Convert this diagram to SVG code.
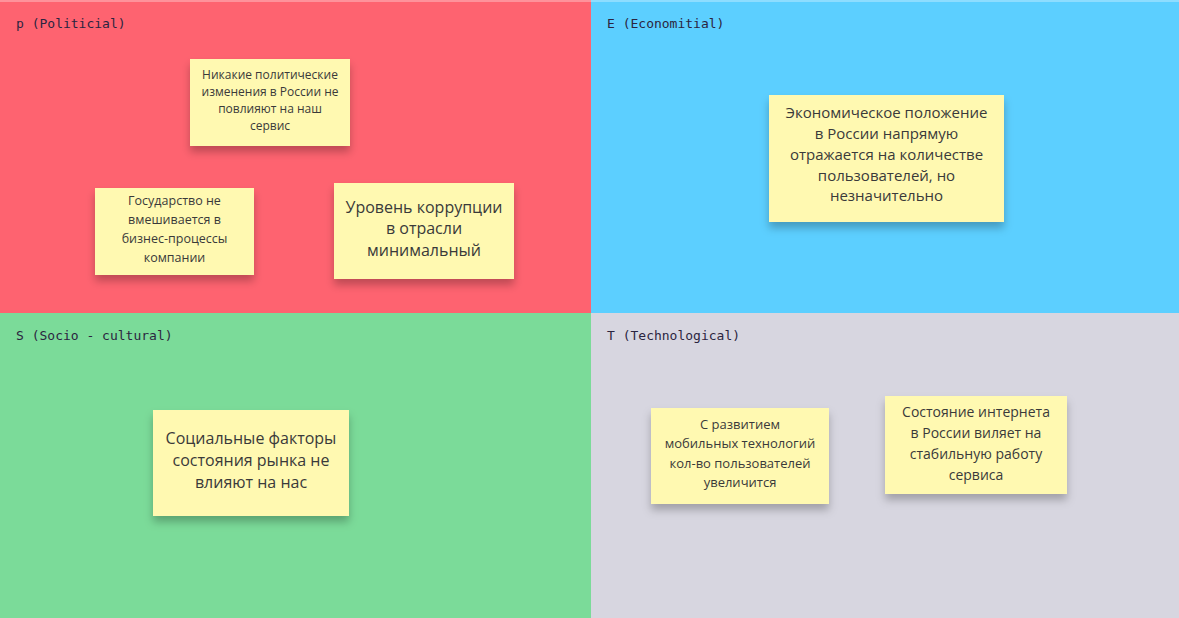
<svg xmlns="http://www.w3.org/2000/svg" width="1179" height="618" viewBox="0 0 1179 618">
<defs>
<style>
.lbl{font-family:"DejaVu Sans Mono","Liberation Mono",monospace;font-size:13px;fill:#2b2540}
.note{fill:#fff9b1}
.t{font-family:"Open Sans","Noto Sans",sans-serif;fill:#3a3a3a;text-anchor:middle}
</style>
<filter id="sh" x="-20%" y="-20%" width="140%" height="160%">
<feDropShadow dx="0" dy="6" stdDeviation="4" flood-color="#000" flood-opacity="0.25"/>
</filter>
</defs>
<g id="quadrants">
<rect x="0" y="0" width="591" height="313" fill="#fe6370"/>
<rect x="591" y="0" width="588" height="313" fill="#5ccfff"/>
<rect x="0" y="313" width="591" height="305" fill="#7bdb99"/>
<rect x="591" y="313" width="588" height="305" fill="#d7d6e0"/>
<rect x="0" y="0" width="1179" height="2" fill="#ffffff" opacity="0.3"/>
</g>
<g id="labels">
<text class="lbl" x="16" y="28">p (Politicial)</text>
<text class="lbl" x="607" y="28">E (Economitial)</text>
<text class="lbl" x="16" y="340">S (Socio - cultural)</text>
<text class="lbl" x="607" y="340">T (Technological)</text>
</g>
<g id="note-p1">
<rect class="note" x="190" y="59" width="160" height="87" filter="url(#sh)"/>
<text class="t" font-size="12"><tspan x="270" y="79">Никакие политические</tspan><tspan x="270" y="96">изменения в России не</tspan><tspan x="270" y="113">повлияют на наш</tspan><tspan x="270" y="130">сервис</tspan></text>
</g>
<g id="note-p2">
<rect class="note" x="95" y="188" width="159" height="87" filter="url(#sh)"/>
<text class="t" font-size="12.5"><tspan x="174.5" y="205">Государство не</tspan><tspan x="174.5" y="224">вмешивается в</tspan><tspan x="174.5" y="243">бизнес-процессы</tspan><tspan x="174.5" y="262">компании</tspan></text>
</g>
<g id="note-p3">
<rect class="note" x="334" y="183" width="180" height="96" filter="url(#sh)"/>
<text class="t" font-size="16"><tspan x="424" y="213">Уровень коррупции</tspan><tspan x="424" y="234">в отрасли</tspan><tspan x="424" y="256">минимальный</tspan></text>
</g>
<g id="note-e1">
<rect class="note" x="769" y="95" width="235" height="127" filter="url(#sh)"/>
<text class="t" font-size="15"><tspan x="886.5" y="118">Экономическое положение</tspan><tspan x="886.5" y="139">в России напрямую</tspan><tspan x="886.5" y="160">отражается на количестве</tspan><tspan x="886.5" y="181">пользователей, но</tspan><tspan x="886.5" y="201">незначительно</tspan></text>
</g>
<g id="note-s1">
<rect class="note" x="153" y="410" width="196" height="106" filter="url(#sh)"/>
<text class="t" font-size="16"><tspan x="251" y="444">Социальные факторы</tspan><tspan x="251" y="466">состояния рынка не</tspan><tspan x="251" y="488">влияют на нас</tspan></text>
</g>
<g id="note-t1">
<rect class="note" x="651" y="408" width="178" height="96" filter="url(#sh)"/>
<text class="t" font-size="13"><tspan x="740" y="429">С развитием</tspan><tspan x="740" y="448">мобильных технологий</tspan><tspan x="740" y="468">кол-во пользователей</tspan><tspan x="740" y="487">увеличится</tspan></text>
</g>
<g id="note-t2">
<rect class="note" x="885" y="396" width="182" height="98" filter="url(#sh)"/>
<text class="t" font-size="14"><tspan x="976" y="417">Состояние интернета</tspan><tspan x="976" y="438">в России виляет на</tspan><tspan x="976" y="459">стабильную работу</tspan><tspan x="976" y="480">сервиса</tspan></text>
</g>
<g id="connectors"/>
</svg>
